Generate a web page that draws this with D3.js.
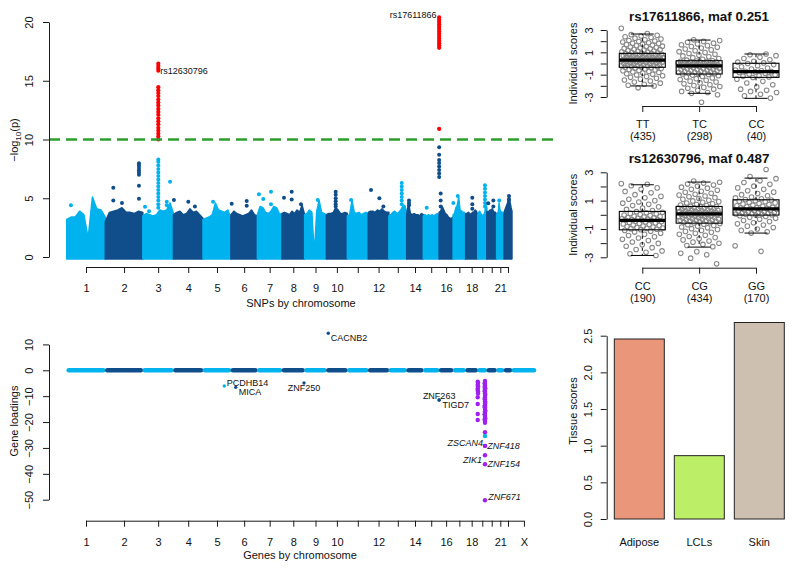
<!DOCTYPE html>
<html>
<head>
<meta charset="utf-8">
<script src="https://cdn.jsdelivr.net/npm/d3@7"></script>
<style>
  body { margin: 0; background: #fff; }
  text { font-family: "Liberation Sans", Arial, Helvetica, sans-serif; fill: #111; }
</style>
</head>
<body>
<svg id="fig" width="800" height="568"></svg>
<script>
// ---------- data ----------
const chromosomes = ['1','2','3','4','5','6','7','8','9','10','11','12','13','14','15','16','17','18','19','20','21','22','X'];
const chromLengths = [249.25,243.2,198.02,191.15,180.92,171.12,159.14,146.36,141.21,135.53,135.01,133.85,115.17,107.35,102.53,90.35,81.2,78.08,59.13,63.03,48.13,51.3,155.27];
const chromTickLabels = ['1','2','3','4','5','6','7','8','9','10','','12','','14','','16','','18','','','21','','X'];

// upper edge of the dense SNP cloud (-log10 p), 10 readings along each autosome
const snpEnvelope = [
  [3.2, 3.4, 3.4, 3.9, 3.6, 1.6, 5.1, 4.1, 4.0, 3.4],
  [3.0, 3.8, 3.9, 4.0, 4.2, 3.8, 3.8, 3.7, 3.9, 3.8],
  [3.5, 3.7, 3.6, 3.5, 3.6, 4.0, 3.9, 4.0, 4.6, 3.7],
  [3.6, 3.8, 3.9, 3.6, 3.7, 4.1, 3.8, 3.9, 3.6, 3.3],
  [3.2, 3.3, 3.4, 3.6, 4.6, 4.0, 3.9, 3.8, 4.0, 3.3],
  [3.6, 3.9, 3.7, 3.6, 3.5, 3.6, 3.7, 4.0, 3.6, 3.5],
  [3.6, 4.3, 4.2, 3.8, 3.7, 3.9, 4.3, 4.2, 3.7, 3.6],
  [3.7, 3.8, 3.7, 3.6, 3.9, 3.7, 4.0, 3.8, 4.4, 3.6],
  [3.6, 3.7, 4.0, 3.8, 0.2, 3.9, 4.8, 3.8, 3.7, 3.6],
  [3.6, 3.7, 3.7, 3.8, 4.2, 4.0, 3.7, 3.7, 3.8, 3.7],
  [3.5, 3.6, 4.8, 3.8, 3.7, 3.8, 3.6, 3.7, 3.8, 3.6],
  [3.8, 3.9, 3.9, 3.8, 4.0, 3.9, 4.1, 3.9, 3.8, 3.8],
  [3.5, 3.6, 3.8, 3.9, 3.7, 3.8, 4.0, 4.3, 4.4, 3.8],
  [3.6, 4.6, 3.7, 3.6, 3.7, 3.6, 3.6, 3.5, 3.7, 3.6],
  [3.5, 3.6, 3.5, 3.6, 3.5, 3.6, 3.5, 3.6, 3.7, 3.5],
  [3.8, 3.9, 4.3, 4.0, 3.7, 3.6, 3.4, 3.3, 3.3, 3.4],
  [3.6, 3.7, 4.2, 4.4, 5.1, 4.0, 3.9, 3.8, 3.8, 3.6],
  [3.7, 3.7, 3.8, 3.7, 3.6, 3.8, 3.8, 4.0, 3.9, 3.6],
  [3.6, 3.8, 3.9, 3.7, 3.6, 3.5, 3.6, 3.8, 4.5, 4.2],
  [3.9, 3.8, 3.9, 4.0, 4.0, 4.1, 3.9, 3.8, 3.8, 3.6],
  [3.6, 3.7, 3.8, 4.6, 4.0, 3.9, 3.8, 3.8, 3.7, 3.6],
  [3.8, 4.0, 4.2, 4.4, 4.6, 5.0, 5.2, 4.6, 4.2, 3.9]
];

// SNPs standing above the cloud: [chromosome, position (Mb), -log10 p values]
const snpPeaks = [
  ['1', 27, [4.4]],
  ['2', 52, [5.9, 4.8]], ['2', 108, [4.6]],
  ['2', 218, [7.98, 7.78, 7.58, 7.39, 7.19, 6.99, 6.07, 4.96]],
  ['3', 14, [4.28]], ['3', 40, [3.9]],
  ['3', 100, [4.2, 4.5, 4.8, 5.1, 5.4, 5.7, 6.0, 6.3, 6.6, 6.9, 7.2, 7.5, 7.8, 8.1, 8.3]],
  ['3', 155, [4.7, 4.4]], ['3', 176, [6.4]],
  ['4', 3, [4.85]], ['4', 96, [4.7]], ['4', 139, [4.3]],
  ['5', 65, [4.7]],
  ['6', 5, [4.54]], ['6', 102, [4.76, 4.37]],
  ['7', 10, [5.34]], ['7', 38, [4.94]], ['7', 88, [5.56, 4.5]],
  ['8', 13, [5.05]], ['8', 63, [5.56, 4.9]], ['8', 123, [4.5]],
  ['9', 85, [4.85]],
  ['10', 60, [5.56, 5.3, 5.0, 4.75, 4.5, 4.3]],
  ['11', 24, [4.85]],
  ['12', 18, [5.7]], ['12', 72, [5.0]], ['12', 98, [4.3]],
  ['13', 83, [6.3, 6.0, 5.7, 5.4, 5.1, 4.8, 4.5]],
  ['14', 15, [4.8, 4.6, 4.4]],
  ['15', 22, [4.2]],
  ['16', 0, [9.35, 8.7, 8.25, 8.0, 7.7, 7.4, 7.1, 6.8]], ['16', 10, [5.4, 4.8, 4.3]],
  ['17', 1.5, [4.6]], ['17', 30, [5.2]],
  ['18', 43, [5.04, 4.5, 4.1]],
  ['19', 47, [6.1, 5.8, 5.5, 5.2, 4.9, 4.6, 4.3]],
  ['20', 9, [4.57]], ['20', 42, [4.8, 4.3]],
  ['21', 17, [4.8]],
  ['22', 32, [5.2, 4.9]]
];

// genome-wide significant SNPs (red)
const hitSnps = ['rs12630796', 'rs17611866'];
const hitChrom = ['3', '16'];
const hitPos = [100, 0];
const hitValues = [
  [10.0, 10.25, 10.5, 10.75, 11.0, 11.3, 11.55, 11.8, 12.1, 12.35, 12.6, 12.9, 13.15, 13.4, 13.7, 13.95, 14.2, 14.45, 15.85, 16.05, 16.25, 16.45],
  [10.9, 17.8, 18.0, 18.2, 18.4, 18.6, 18.8, 19.0, 19.2, 19.4, 19.6, 19.8, 20.0, 20.2, 20.4]
];
const gwThreshold = 10;

// gene loadings
const geneNames = ['CACNB2','PCDHB14','MICA','ZNF250','ZNF263','TIGD7','ZSCAN4','ZNF418','ZIK1','ZNF154','ZNF671'];
const geneChrom = ['10','5','6','8','16','16','19','19','19','19','19'];
const genePos = [12, 138, 31, 142.5, 0, 0, 47, 47, 47, 47, 47];
const geneLoading = [14.3, -6.1, -6.6, -4.9, -11.5, -11.5, -29.2, -29.2, -32.8, -36.3, -50.2];
const geneInCluster = [false, false, false, false, false, false, true, true, true, true, true];
// unlabeled genes of the chr19 zinc-finger cluster: [position (Mb), loadings]
const zincCluster = [
  [0, [-4.4, -5.7, -7.0, -7.6, -10.4, -13.0, -16.9, -19.2]],
  [2, [-4.8, -6.2, -8.2, -9.0]],
  [45, [-5.0, -6.5, -8.0, -11.0, -14.0, -17.0, -19.0]],
  [47, [-4.1, -5.3, -6.0, -6.8, -7.5, -8.3, -9.0, -9.8, -10.5, -11.3, -12.0, -12.8, -13.5, -14.3, -15.0, -15.8, -16.5, -17.3, -18.0, -18.8, -19.6, -20.3, -23.9]],
  [49, [-7.0, -9.5, -12.5, -15.5, -18.5]]
];
const chr19Other = [47, -25.4];

// individual scores by genotype
const snp1Title = 'rs17611866, maf 0.251';
const snp1Genotypes = ['TT', 'TC', 'CC'];
const snp1Counts = [435, 298, 40];
const snp1Box = [[-2.01, -0.34, 0.31, 0.91, 2.64], [-2.67, -0.94, -0.22, 0.25, 2.1], [-3.12, -1.24, -0.73, 0.02, 0.85]];
const snp1Scores = [
  [3.15, 2.68, 2.58, 2.52, 2.46, 2.4, 2.33, 2.27, 2.19, 2.12, 2.06, 2.01, 1.97, 1.92, 1.86, 1.81, 1.78, 1.73, 1.69, 1.64, 1.6, 1.55, 1.52,
   1.47, 1.43, 1.39, 1.35, 1.31, 1.27, 1.24, 1.2, 1.16, 1.12, 1.09, 1.05, 1.02, 0.98, 0.95, 0.92,
   0.9, 0.88, 0.85, 0.83, 0.8, 0.78, 0.75, 0.73, 0.7, 0.68, 0.66, 0.63, 0.61, 0.59, 0.56, 0.54, 0.52, 0.5, 0.48, 0.46, 0.44, 0.42, 0.4, 0.38, 0.37, 0.35, 0.33, 0.32,
   0.3, 0.28, 0.26, 0.24, 0.22, 0.2, 0.18, 0.16, 0.13, 0.11, 0.09, 0.06, 0.04, 0.02, -0.01, -0.03, -0.06, -0.08, -0.11, -0.13, -0.16, -0.18, -0.21, -0.23, -0.26, -0.28, -0.31, -0.33,
   -0.37, -0.41, -0.45, -0.49, -0.53, -0.57, -0.62, -0.66, -0.71, -0.76, -0.81, -0.86, -0.92, -0.97,
   -1.03, -1.1, -1.17, -1.24, -1.32, -1.4, -1.48, -1.57, -1.66, -1.76, -1.86, -1.95, -2.01, -2.18],
  [2.12, 2.05, 1.98, 1.9, 1.82, 1.75, 1.68, 1.6, 1.52, 1.45, 1.38, 1.3, 1.22, 1.14, 1.06, 0.98, 0.9, 0.82, 0.75, 0.68, 0.6, 0.52, 0.44, 0.37, 0.3,
   0.24, 0.22, 0.2, 0.18, 0.16, 0.14, 0.12, 0.1, 0.08, 0.06, 0.04, 0.02, 0.0, -0.02, -0.04, -0.06, -0.08, -0.1, -0.12, -0.14, -0.16, -0.17, -0.18, -0.19, -0.21,
   -0.24, -0.27, -0.3, -0.33, -0.36, -0.39, -0.42, -0.45, -0.48, -0.51, -0.54, -0.57, -0.6, -0.63, -0.66, -0.69, -0.72, -0.75, -0.78, -0.81, -0.84, -0.87, -0.9, -0.92, -0.94,
   -0.98, -1.04, -1.1, -1.16, -1.22, -1.29, -1.36, -1.43, -1.5, -1.58, -1.66, -1.74, -1.82, -1.9, -1.98, -2.06, -2.14, -2.22, -2.3, -2.4, -2.5, -2.6, -2.67, -2.8, -3.47],
  [0.85, 0.78, 0.7, 0.55, 0.45, 0.33, 0.2, 0.12, 0.05, 0.0, -0.1, -0.2, -0.3, -0.4, -0.5, -0.58, -0.65, -0.7, -0.73, -0.75,
   -0.8, -0.88, -0.95, -1.02, -1.1, -1.15, -1.2, -1.25, -1.4, -1.6, -1.75, -1.9, -2.1, -2.3, -2.4, -2.5, -2.6, -2.75, -2.9, -3.1]
];

const snp2Title = 'rs12630796, maf 0.487';
const snp2Genotypes = ['CC', 'CG', 'GG'];
const snp2Counts = [190, 434, 170];
const snp2Box = [[-2.87, -1.06, -0.4, 0.24, 2.12], [-2.28, -0.59, 0.07, 0.59, 2.31], [-1.29, -0.02, 0.42, 1.06, 2.59]];
const snp2Scores = [
  [2.2, 2.15, 2.05, 1.9, 1.8, 1.65, 1.55, 1.42, 1.3, 1.2, 1.1, 1.0, 0.9, 0.82, 0.74, 0.65, 0.56, 0.47, 0.38, 0.3,
   0.22, 0.18, 0.14, 0.1, 0.06, 0.02, -0.02, -0.06, -0.1, -0.13, -0.16, -0.19, -0.22, -0.25, -0.28, -0.31, -0.33, -0.35, -0.37, -0.39,
   -0.42, -0.45, -0.48, -0.51, -0.54, -0.58, -0.61, -0.65, -0.68, -0.72, -0.75, -0.79, -0.83, -0.86, -0.9, -0.93, -0.96, -0.99, -1.02, -1.05,
   -1.1, -1.16, -1.22, -1.3, -1.38, -1.46, -1.55, -1.64, -1.73, -1.82, -1.92, -2.02, -2.12, -2.22, -2.32, -2.45, -2.55, -2.65, -2.75, -2.87],
  [2.38, 2.3, 2.24, 2.17, 2.1, 2.02, 1.95, 1.88, 1.8, 1.73, 1.66, 1.59, 1.52, 1.45, 1.39, 1.33, 1.27, 1.21, 1.15, 1.09, 1.03, 0.98, 0.93, 0.88, 0.83, 0.78, 0.73, 0.69, 0.65, 0.61,
   0.58, 0.56, 0.54, 0.52, 0.5, 0.48, 0.46, 0.44, 0.42, 0.4, 0.38, 0.36, 0.34, 0.32, 0.3, 0.28, 0.26, 0.24, 0.22, 0.2, 0.18, 0.17, 0.15, 0.14, 0.13, 0.12, 0.11, 0.1, 0.09, 0.08,
   0.06, 0.04, 0.02, 0.0, -0.03, -0.05, -0.07, -0.09, -0.11, -0.13, -0.15, -0.17, -0.19, -0.21, -0.23, -0.25, -0.27, -0.29, -0.31, -0.33, -0.35, -0.37, -0.39, -0.41, -0.44, -0.47, -0.5, -0.53, -0.56, -0.58,
   -0.62, -0.66, -0.7, -0.75, -0.8, -0.86, -0.92, -0.98, -1.04, -1.1, -1.17, -1.24, -1.31, -1.38, -1.45, -1.53, -1.61, -1.69, -1.77, -1.85, -1.93, -2.01, -2.09, -2.17, -2.25, -2.6, -2.72, -2.82, -3.06, -3.46],
  [3.2, 2.7, 2.55, 2.4, 2.28, 2.15, 2.02, 1.9, 1.8, 1.7, 1.6, 1.5, 1.42, 1.34, 1.26, 1.19, 1.13, 1.08,
   1.04, 1.0, 0.96, 0.92, 0.88, 0.84, 0.8, 0.76, 0.72, 0.68, 0.64, 0.6, 0.56, 0.53, 0.5, 0.47, 0.45, 0.43,
   0.4, 0.37, 0.34, 0.31, 0.28, 0.25, 0.22, 0.19, 0.16, 0.14, 0.12, 0.1, 0.08, 0.06, 0.04, 0.02, 0.0, -0.02,
   -0.06, -0.12, -0.18, -0.25, -0.32, -0.4, -0.48, -0.56, -0.64, -0.72, -0.8, -0.9, -1.0, -1.1, -1.2, -1.29, -2.19, -2.58]
];

// tissue scores
const tissues = ['Adipose', 'LCLs', 'Skin'];
const tissueScores = [2.455, 0.864, 2.68];
const tissueColors = ['#E9967A', '#BCEE68', '#CDC0B0'];

// ---------- drawing ----------
const LIGHT = '#00B2EE', DARK = '#104E8B', PURPLE = '#A020F0', AXIS = '#1a1a1a';
const FONT = '"Liberation Sans", Arial, Helvetica, sans-serif';
const svg = d3.select('#fig');

const chromStart = [0, ...d3.cumsum(chromLengths)];
const genomeLen = chromStart[chromStart.length - 1];
const chromIdx = c => chromosomes.indexOf(c);
const chromColor = c => (chromIdx(c) % 2 === 0 ? LIGHT : DARK);
const chromMid = chromosomes.map((c, i) => chromStart[i] + chromLengths[i] / 2);

// genome coordinate shared by both genome-wide panels
const xG = d3.scaleLinear().domain([0, genomeLen]).range([66.75, 535.95]);
const gpos = (c, p) => chromStart[chromIdx(c)] + p;

function yAxisR(g, scale, ticks, fmt, axisX, labelX) {
  const ax = g.append('g').attr('transform', `translate(${axisX},0)`)
    .call(d3.axisLeft(scale).tickValues(ticks).tickFormat(fmt).tickSize(6).tickSizeOuter(0));
  ax.attr('font-family', FONT).attr('font-size', 11);
  ax.select('.domain').attr('stroke', AXIS);
  ax.selectAll('.tick line').attr('stroke', AXIS);
  ax.selectAll('.tick text')
    .attr('x', null).attr('dy', '0.36em').attr('text-anchor', 'middle').attr('fill', '#111')
    .attr('transform', `translate(${labelX - axisX},0) rotate(-90)`);
  return ax;
}

function xAxisR(g, scale, ticks, fmt, axisY, labelDy) {
  const ax = g.append('g').attr('transform', `translate(0,${axisY})`)
    .call(d3.axisBottom(scale).tickValues(ticks).tickFormat(fmt).tickSize(6).tickSizeOuter(0));
  ax.attr('font-family', FONT).attr('font-size', 11);
  ax.select('.domain').remove();
  ax.append('line')
    .attr('x1', scale(ticks[0])).attr('x2', scale(ticks[ticks.length - 1]))
    .attr('y1', 0.5).attr('y2', 0.5).attr('stroke', AXIS);
  ax.selectAll('.tick line').attr('stroke', AXIS);
  ax.selectAll('.tick text').attr('y', labelDy).attr('dy', '0.36em').attr('fill', '#111');
  return ax;
}

function rotLabel(g, x, y, txt) {
  return g.append('text').attr('transform', `translate(${x},${y}) rotate(-90)`)
    .attr('text-anchor', 'middle').attr('dy', '0.36em').attr('font-size', 11).text(txt);
}

// ===== Panel A: Manhattan plot =====
const gA = svg.append('g');
const yM = d3.scaleLinear().domain([0, 20]).range([257, 22]);

const envArea = d3.area().x(d => xG(d[0])).y0(yM(0) + 2).y1(d => yM(d[1]));
snpEnvelope.forEach((vals, i) => {
  const pts = vals.map((v, k) => [chromStart[i] + chromLengths[i] * k / (vals.length - 1), v]);
  gA.append('path').attr('d', envArea(pts)).attr('fill', chromColor(chromosomes[i]))
    .attr('stroke', chromColor(chromosomes[i])).attr('stroke-width', 1.5).attr('stroke-linejoin', 'round');
});

const peakPts = snpPeaks.flatMap(([c, p, vals]) => vals.map(v => ({ c, p, v })));
gA.selectAll('circle.peak').data(peakPts).join('circle').attr('class', 'peak')
  .attr('cx', d => xG(gpos(d.c, d.p))).attr('cy', d => yM(d.v)).attr('r', 2)
  .attr('fill', d => chromColor(d.c));

const hitPts = hitValues.flatMap((vals, i) => vals.map(v => ({ c: hitChrom[i], p: hitPos[i], v })));
gA.selectAll('circle.hit').data(hitPts).join('circle').attr('class', 'hit')
  .attr('cx', d => xG(gpos(d.c, d.p))).attr('cy', d => yM(d.v)).attr('r', 2.1).attr('fill', '#FF0000');

gA.append('line').attr('x1', 49).attr('x2', 553).attr('y1', yM(gwThreshold)).attr('y2', yM(gwThreshold))
  .attr('stroke', '#2E9E2E').attr('stroke-width', 2.5).attr('stroke-dasharray', '11,6');

// hit labels
gA.append('text').attr('x', xG(gpos(hitChrom[0], hitPos[0])) + 2).attr('y', yM(15.85))
  .attr('dy', '0.36em').attr('font-size', 9).text(hitSnps[0]);
gA.append('text').attr('x', xG(gpos(hitChrom[1], hitPos[1])) - 2.5).attr('y', yM(20.4) - 3)
  .attr('dy', '0.36em').attr('text-anchor', 'end').attr('font-size', 9).text(hitSnps[1]);

yAxisR(gA, yM, [0, 5, 10, 15, 20], d3.format('d'), 49, 29);
xAxisR(gA, xG, chromMid.slice(0, 22), (d, i) => chromTickLabels[i], 267, 21);
const ylab = gA.append('text').attr('transform', 'translate(14,140) rotate(-90)')
  .attr('text-anchor', 'middle').attr('dy', '0.36em').attr('font-size', 11);
ylab.append('tspan').text('\u2212log');
ylab.append('tspan').attr('font-size', 8).attr('dy', 3).text('10');
ylab.append('tspan').attr('dy', -3).text('(p)');
gA.append('text').attr('x', 301).attr('y', 303).attr('dy', '0.36em').attr('text-anchor', 'middle')
  .attr('font-size', 11).text('SNPs by chromosome');

// ===== Panel C: gene loadings =====
const gC = svg.append('g');
const yL = d3.scaleLinear().domain([-50, 10]).range([499.7, 344.4]);

gC.selectAll('line.band').data(chromosomes).join('line').attr('class', 'band')
  .attr('x1', (c, i) => xG(chromStart[i]) + 2).attr('x2', (c, i) => xG(chromStart[i + 1]) - 2)
  .attr('y1', yL(0)).attr('y2', yL(0))
  .attr('stroke', c => chromColor(c)).attr('stroke-width', 4.6).attr('stroke-linecap', 'round');

const zincPts = zincCluster.flatMap(([p, vals]) => vals.map(v => ({ p, v })));
gC.selectAll('circle.zinc').data(zincPts).join('circle').attr('class', 'zinc')
  .attr('cx', d => xG(gpos('19', d.p))).attr('cy', d => yL(d.v)).attr('r', 2.2).attr('fill', PURPLE);
gC.append('circle').attr('cx', xG(gpos('19', chr19Other[0]))).attr('cy', yL(chr19Other[1]))
  .attr('r', 2.2).attr('fill', chromColor('19'));

const genes = geneNames.map((n, i) => ({ n, c: geneChrom[i], p: genePos[i], v: geneLoading[i], z: geneInCluster[i] }));
gC.selectAll('circle.gene').data(genes).join('circle').attr('class', 'gene')
  .attr('cx', d => xG(gpos(d.c, d.p))).attr('cy', d => yL(d.v))
  .attr('r', d => (d.z ? 2.2 : 1.7)).attr('fill', d => (d.z ? PURPLE : chromColor(d.c)));

// label placement (layout only)
const labelLayout = {
  CACNB2: ['start', 2.5, 4, false], PCDHB14: ['start', 2.5, -3.5, false], MICA: ['start', 3, 4.5, false],
  ZNF250: ['middle', 0, 5, false], ZNF263: ['middle', 0, -4, false], TIGD7: ['start', 3.4, 4.3, false],
  ZSCAN4: ['end', -2, -3.3, true], ZNF418: ['start', 2.3, 0, true], ZIK1: ['end', -3, 4.7, true],
  ZNF154: ['start', 2.5, 0, true], ZNF671: ['start', 3.3, -3.6, true]
};
gC.selectAll('text.glab').data(genes).join('text').attr('class', 'glab')
  .attr('x', d => xG(gpos(d.c, d.p)) + labelLayout[d.n][1])
  .attr('y', d => yL(d.v) + labelLayout[d.n][2]).attr('dy', '0.36em')
  .attr('text-anchor', d => labelLayout[d.n][0])
  .attr('font-style', d => (labelLayout[d.n][3] ? 'italic' : 'normal'))
  .attr('font-size', 9).text(d => d.n);

yAxisR(gC, yL, [-50, -40, -30, -20, -10, 0, 10], d3.format('d'), 49, 29);
xAxisR(gC, xG, chromMid, (d, i) => chromTickLabels[i], 520.7, 21);
rotLabel(gC, 14, 421, 'Gene loadings');
gC.append('text').attr('x', 300).attr('y', 555).attr('dy', '0.36em').attr('text-anchor', 'middle')
  .attr('font-size', 11).text('Genes by chromosome');

// ===== Panel B: genotype boxplots =====
function genotypePanel(title, titleY, genotypes, counts, boxes, scores, yRange, axisY) {
  const g = svg.append('g');
  const y = d3.scaleLinear().domain([-3, 3]).range(yRange);
  const x = d3.scalePoint().domain(genotypes).range([642.3, 756]);
  const half = 23;

  scores.forEach((vals, gi) => {
    g.selectAll(null).data(vals).join('circle')
      .attr('cx', (v, i) => x(genotypes[gi]) + ((((i * 0.618034) + 0.37 * gi) % 1) - 0.5) * 42)
      .attr('cy', v => y(v)).attr('r', 2.3)
      .attr('fill', 'none').attr('stroke', '#888').attr('stroke-width', 1.05);
  });

  boxes.forEach((b, gi) => {
    const cx = x(genotypes[gi]);
    const [lo, q1, md, q3, hi] = b;
    g.append('line').attr('x1', cx).attr('x2', cx).attr('y1', y(q3)).attr('y2', y(hi))
      .attr('stroke', '#000').attr('stroke-dasharray', '3,3');
    g.append('line').attr('x1', cx).attr('x2', cx).attr('y1', y(q1)).attr('y2', y(lo))
      .attr('stroke', '#000').attr('stroke-dasharray', '3,3');
    [lo, hi].forEach(v => g.append('line').attr('x1', cx - half / 2).attr('x2', cx + half / 2)
      .attr('y1', y(v)).attr('y2', y(v)).attr('stroke', '#000'));
    g.append('rect').attr('x', cx - half).attr('width', 2 * half).attr('y', y(q3)).attr('height', y(q1) - y(q3))
      .attr('fill', 'none').attr('stroke', '#000').attr('stroke-width', 1.1);
    g.append('line').attr('x1', cx - half).attr('x2', cx + half).attr('y1', y(md)).attr('y2', y(md))
      .attr('stroke', '#000').attr('stroke-width', 3.2);
  });

  yAxisR(g, y, [-3, -2, -1, 0, 1, 2, 3], d => (d % 2 !== 0 ? d : ''), 606.7, 589);
  const ax = g.append('g').attr('transform', `translate(0,${axisY})`)
    .call(d3.axisBottom(x).tickSize(6).tickSizeOuter(0).tickFormat(''));
  ax.select('.domain').remove();
  ax.append('line').attr('x1', x.range()[0]).attr('x2', x.range()[1]).attr('y1', 0.5).attr('y2', 0.5).attr('stroke', AXIS);
  ax.selectAll('.tick line').attr('stroke', AXIS);
  ax.selectAll('.tick').append('text').attr('y', 18).attr('dy', '0.36em').attr('text-anchor', 'middle')
    .attr('font-size', 11).attr('font-family', FONT).attr('fill', '#111').text(d => d);
  ax.selectAll('.tick').append('text').attr('y', 30.5).attr('dy', '0.36em').attr('text-anchor', 'middle')
    .attr('font-size', 11).attr('font-family', FONT).attr('fill', '#111')
    .text(d => `(${counts[genotypes.indexOf(d)]})`);

  g.append('text').attr('x', 699).attr('y', titleY).attr('dy', '0.36em').attr('text-anchor', 'middle')
    .attr('font-size', 13.4).attr('font-weight', 'bold').text(title);
  rotLabel(g, 573, (yRange[0] + yRange[1]) / 2, 'Individual scores');
}
genotypePanel(snp1Title, 16, snp1Genotypes, snp1Counts, snp1Box, snp1Scores, [97, 30], 106);
genotypePanel(snp2Title, 158.5, snp2Genotypes, snp2Counts, snp2Box, snp2Scores, [257.3, 172.3], 267.7);

// ===== Panel D: tissue scores =====
const gD = svg.append('g');
const xT = d3.scaleBand().domain(tissues).range([614.3, 784.3]).paddingInner(1 / 6).paddingOuter(0);
const yT = d3.scaleLinear().domain([0, 2.5]).range([519, 335.7]);
gD.selectAll('rect').data(tissues).join('rect')
  .attr('x', d => xT(d)).attr('width', xT.bandwidth())
  .attr('y', (d, i) => yT(tissueScores[i])).attr('height', (d, i) => yT(0) - yT(tissueScores[i]))
  .attr('fill', (d, i) => tissueColors[i]).attr('stroke', '#222').attr('stroke-width', 1);
yAxisR(gD, yT, [0, 0.5, 1, 1.5, 2, 2.5], d3.format('.1f'), 606.7, 588);
gD.selectAll('text.tl').data(tissues).join('text').attr('class', 'tl')
  .attr('x', d => xT(d) + xT.bandwidth() / 2).attr('y', 541.7).attr('dy', '0.36em')
  .attr('text-anchor', 'middle').attr('font-size', 11).text(d => d);
rotLabel(gD, 573, 411, 'Tissue scores');
</script>
</body>
</html>
